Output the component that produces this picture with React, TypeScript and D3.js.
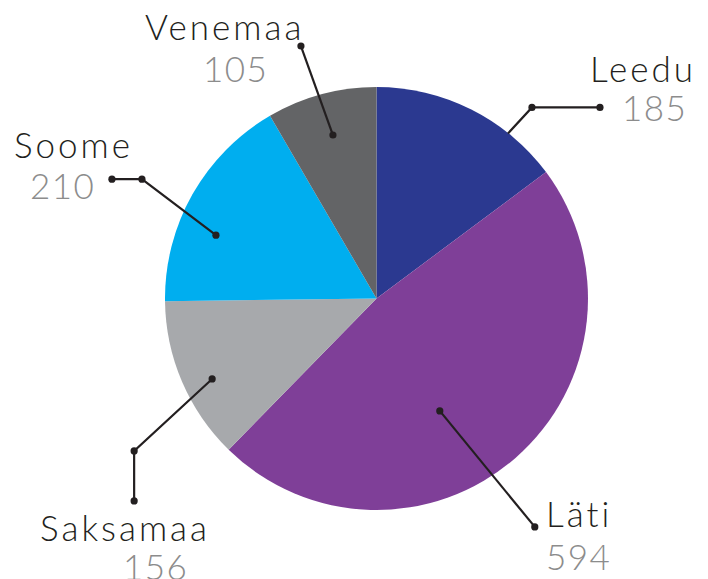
import React from "react";
import * as d3 from "d3";

// ---- data ----
const categories = ["Leedu", "Läti", "Saksamaa", "Soome", "Venemaa"];
const values = [185, 594, 156, 210, 105];
const colors = ["#2b3990", "#7f3f98", "#a7a9ac", "#00aeef", "#636466"];

// ---- annotation layout (leader lines & labels) ----
const leaderAnchor = [
  { dA: 11.9, r: 211, innerDot: false },
  { dA: 11.8, r: 129, innerDot: true },
  { dA: -2.9, r: 183, innerDot: true },
  { dA: -8.0, r: 172.6, innerDot: true },
  { dA: 0.2, r: 169.2, innerDot: true },
];
const leaderPath: [number, number][][] = [
  [[24, -26], [92, -26]],
  [[95, 116]],
  [[-78, 72], [-78, 122]],
  [[-74, -56], [-104, -56]],
  [[-32, -89]],
];
const labelPos = [
  { x: 590, y: 82, nx: 622, ny: 121 },
  { x: 546, y: 527, nx: 546, ny: 570 },
  { x: 40, y: 541, nx: 123, ny: 580 },
  { x: 14, y: 158, nx: 30, ny: 199 },
  { x: 145, y: 40, nx: 203, ny: 82 },
];

const W = 708;
const H = 579;
const CX = 376.5;
const CY = 298.5;
const R = 211.5;

export default function App() {
  const pie = d3.pie<number>().sort(null).value((d) => d);
  const arcs = pie(values);
  const arc = d3.arc<d3.PieArcDatum<number>>().innerRadius(0).outerRadius(R);
  const font = "Lato, 'Open Sans', sans-serif";

  return (
    <svg
      width={W}
      height={H}
      style={{ position: "absolute", left: 0, top: 0, display: "block", background: "#fff" }}
    >
      <g transform={`translate(${CX},${CY})`}>
        {arcs.map((a, i) => (
          <path key={categories[i]} d={arc(a) || ""} fill={colors[i]} />
        ))}
        {arcs.map((a, i) => {
          const mid = (a.startAngle + a.endAngle) / 2 + (leaderAnchor[i].dA * Math.PI) / 180;
          const r = leaderAnchor[i].r;
          const p0: [number, number] = [r * Math.sin(mid), -r * Math.cos(mid)];
          const pts: [number, number][] = [p0, ...leaderPath[i].map(([dx, dy]) => [p0[0] + dx, p0[1] + dy] as [number, number])];
          const line = d3.line()(pts) || "";
          return (
            <g key={"l" + i}>
              <path d={line} fill="none" stroke="#231f20" strokeWidth={2.2} />
              {pts.map((p, j) =>
                j === 0 && !leaderAnchor[i].innerDot ? null : (
                  <circle key={j} cx={p[0]} cy={p[1]} r={3.6} fill="#231f20" />
                )
              )}
            </g>
          );
        })}
      </g>
      {categories.map((c, i) => (
        <g key={"t" + i} fontFamily={font} fontWeight={300} fontSize={35}>
          <text x={labelPos[i].x} y={labelPos[i].y} fill="#231f20" letterSpacing={3}>
            {c}
          </text>
          <text x={labelPos[i].nx} y={labelPos[i].ny} fill="#8c8c8c" letterSpacing={1.5}>
            {values[i]}
          </text>
        </g>
      ))}
    </svg>
  );
}
